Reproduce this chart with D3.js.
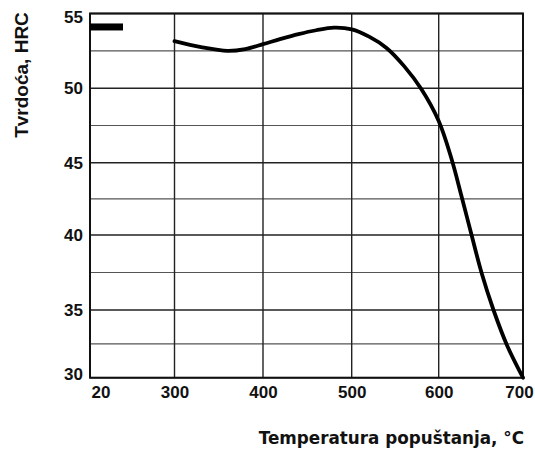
<!DOCTYPE html>
<html><head><meta charset="utf-8">
<script src="https://cdn.jsdelivr.net/npm/d3@7/dist/d3.min.js"></script>
<style>body{margin:0;background:#fff}</style>
</head><body>
<svg id="c" width="535" height="450"></svg>
<script>
const xTicks = [20, 300, 400, 500, 600, 700];
const yTicks = [30, 35, 40, 45, 50, 55];
const yMinor = [32.5, 37.5, 42.5, 47.5, 52.5];
const hardened = [{t: 20, h: 54.1}];
const temps = [300, 330, 360, 380, 400, 420, 440, 460, 480, 500, 520, 540, 560, 580, 600, 615, 627, 639, 651, 665, 681, 700];
const hrc   = [53.15, 52.75, 52.5, 52.62, 52.95, 53.3, 53.62, 53.88, 54.05, 53.94, 53.45, 52.7, 51.5, 49.95, 47.8, 45.3, 42.7, 40.0, 37.45, 35.0, 32.4, 30.0];

const svg = d3.select("#c");
const L = 90, R = 523, T = 13.5, B = 377.7;
const x = d3.scaleLinear().domain([20, 300, 400, 500, 600, 700]).range([L, 174.5, 263, 351.7, 438.7, R]);
const y = d3.scaleLinear().domain([30, 35, 40, 45, 50, 55]).range([B, 310, 235, 162.7, 88.3, T]);

// minor grid
svg.append("g").selectAll("line").data(yMinor).join("line")
  .attr("x1", L).attr("x2", R).attr("y1", d => y(d)).attr("y2", d => y(d))
  .attr("stroke", "#555").attr("stroke-width", 1.1);
// major grid
svg.append("g").selectAll("line").data(yTicks).join("line")
  .attr("x1", L).attr("x2", R).attr("y1", d => y(d)).attr("y2", d => y(d))
  .attr("stroke", "#222").attr("stroke-width", 1.4);
svg.append("g").selectAll("line").data(xTicks).join("line")
  .attr("x1", d => x(d)).attr("x2", d => x(d)).attr("y1", T).attr("y2", B)
  .attr("stroke", "#222").attr("stroke-width", 1.4);
// frame
svg.append("rect").attr("x", L).attr("y", T).attr("width", R - L).attr("height", B - T)
  .attr("fill", "none").attr("stroke", "#111").attr("stroke-width", 2);

// axes labels
const xAxis = d3.axisBottom(x).tickValues(xTicks).tickSize(0).tickPadding(8);
const gx = svg.append("g").attr("transform", `translate(0,${B})`).call(xAxis);
gx.select(".domain").remove();
gx.selectAll("text").attr("font-family", "Liberation Sans, Arial, sans-serif")
  .attr("font-weight", "bold").attr("font-size", 17).attr("fill", "#111")
  .attr("dx", (d) => d === 20 ? 10.5 : (d === 700 ? -4 : 0));
const yAxis = d3.axisLeft(y).tickValues(yTicks).tickSize(0).tickPadding(7);
const gy = svg.append("g").attr("transform", `translate(${L},0)`).call(yAxis);
gy.select(".domain").remove();
gy.selectAll("text").attr("font-family", "Liberation Sans, Arial, sans-serif")
  .attr("font-weight", "bold").attr("font-size", 17).attr("fill", "#111")
  .attr("dy", d => d === 55 ? "0.5em" : (d === 30 ? "0.1em" : "0.32em"));

// hardened marker
svg.append("g").selectAll("rect").data(hardened).join("rect")
  .attr("x", d => x(d.t)).attr("y", d => y(d.h) - 3.5).attr("width", 33).attr("height", 7)
  .attr("fill", "#000");

// curve
const pts = temps.map((t, i) => ({t, h: hrc[i]}));
svg.append("path").datum(pts)
  .attr("d", d3.line().x(d => x(d.t)).y(d => y(d.h)).curve(d3.curveCatmullRom.alpha(0.5)))
  .attr("fill", "none").attr("stroke", "#000").attr("stroke-width", 3.8)
  .attr("stroke-linecap", "round");

// titles
svg.append("text").attr("x", 524).attr("y", 444).attr("text-anchor", "end")
  .attr("font-family", "DejaVu Sans, Verdana, sans-serif").attr("font-weight", "bold")
  .attr("font-size", 16.8).attr("fill", "#111").text("Temperatura popuštanja, °C");
svg.append("text").attr("transform", "translate(28,75) rotate(-90)").attr("text-anchor", "middle")
  .attr("font-family", "Liberation Sans, Arial, sans-serif").attr("font-weight", "bold")
  .attr("font-size", 19).attr("fill", "#111").text("Tvrdoća, HRC");
</script>
</body></html>
